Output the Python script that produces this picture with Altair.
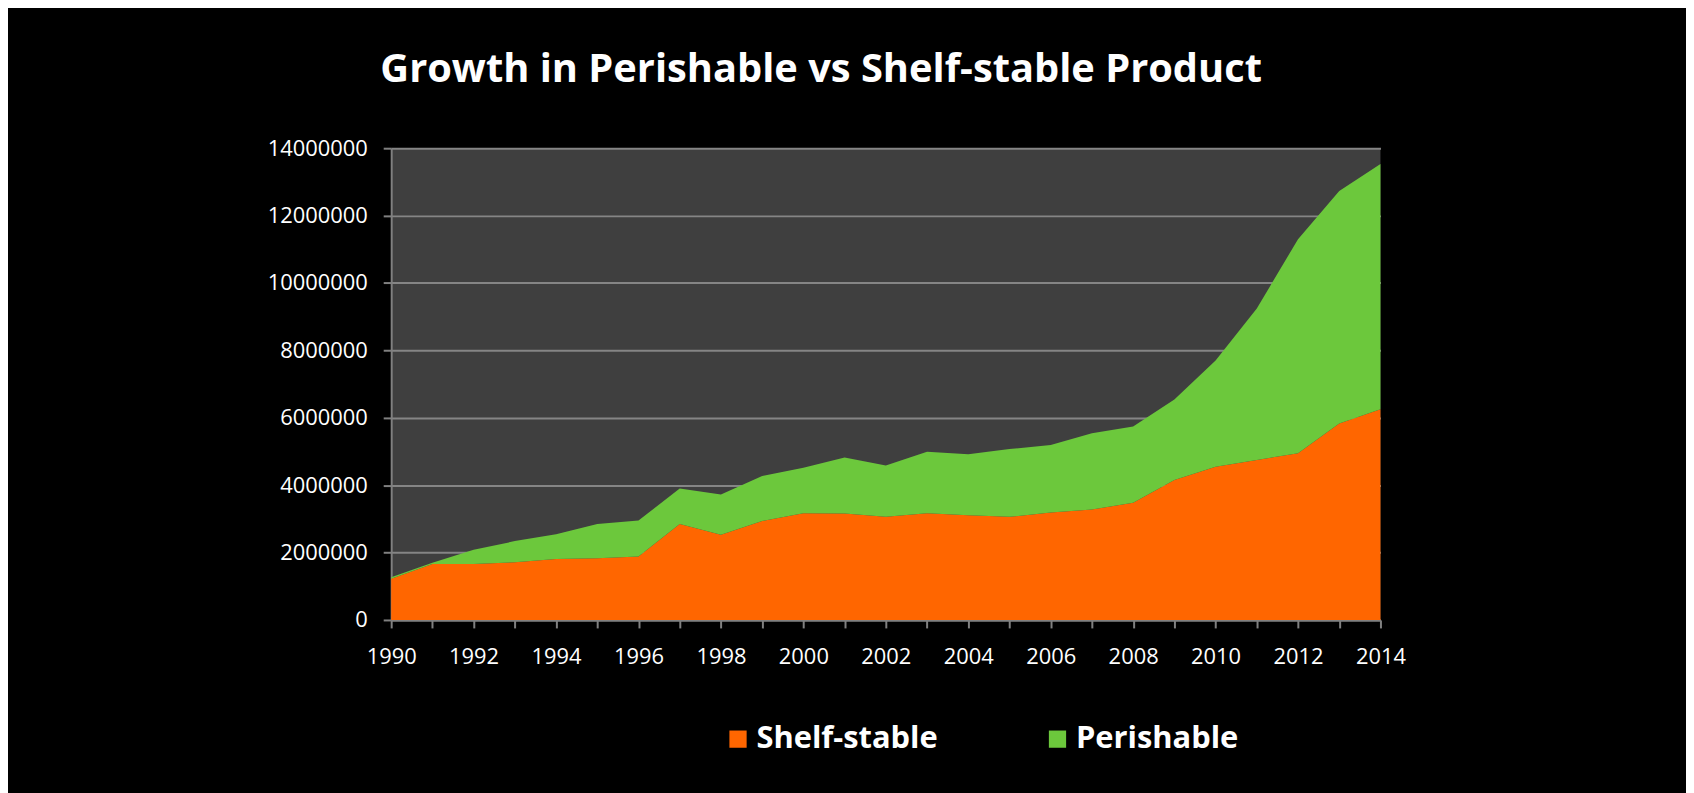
import altair as alt
import pandas as pd

years = list(range(1990, 2015))
shelf_stable = [1220000, 1660000, 1660000, 1710000, 1810000, 1830000, 1880000, 2850000,
                2530000, 2940000, 3170000, 3160000, 3060000, 3170000, 3110000, 3060000,
                3190000, 3280000, 3480000, 4150000, 4550000, 4750000, 4950000, 5830000,
                6250000]
perishable = [50000, 40000, 420000, 630000, 730000, 1020000, 1070000, 1050000,
              1190000, 1330000, 1350000, 1660000, 1520000, 1820000, 1810000, 2010000,
              2000000, 2260000, 2260000, 2390000, 3150000, 4490000, 6350000, 6900000,
              7280000]
series = ["Shelf-stable", "Perishable"]
colors = ["#FF6600", "#6CC83C"]
y_ticks = [0, 2000000, 4000000, 6000000, 8000000, 10000000, 12000000, 14000000]

rows = []
for i, yr in enumerate(years):
    rows.append({"Year": yr, "Series": series[0], "Value": shelf_stable[i], "ord": 1})
    rows.append({"Year": yr, "Series": series[1], "Value": perishable[i], "ord": 2})
df = pd.DataFrame(rows)

FONT = "Open Sans"

chart = alt.Chart(df).mark_area(opacity=1, interpolate="linear").encode(
    x=alt.X("Year:Q",
            scale=alt.Scale(domain=[1990, 2014], nice=False, zero=False),
            axis=alt.Axis(values=years, format="d",
                          labelExpr="datum.value % 2 == 0 ? datum.label : ''",
                          title=None, grid=False, tickSize=8, tickWidth=2,
                          tickColor="#808080", domainColor="#808080", domainWidth=2,
                          labelColor="white", labelFontSize=22, labelFont=FONT,
                          labelPadding=19, labelFlush=False, labelOverlap=False)),
    y=alt.Y("Value:Q", stack="zero",
            scale=alt.Scale(domain=[0, 14000000], nice=False),
            axis=alt.Axis(values=y_ticks, format="d", title=None,
                          grid=True, gridColor="#858585", gridWidth=2,
                          tickSize=8, tickWidth=2, tickColor="#808080",
                          domainColor="#808080", domainWidth=2,
                          labelColor="white", labelFontSize=22, labelFont=FONT,
                          labelPadding=16)),
    color=alt.Color("Series:N",
                    scale=alt.Scale(domain=series, range=colors),
                    legend=alt.Legend(orient="none", legendX=333, legendY=578,
                                      direction="horizontal", title=None,
                                      symbolType="square", symbolSize=300,
                                      symbolStrokeWidth=0, symbolOpacity=1,
                                      labelFont=FONT, labelFontSize=31,
                                      labelFontWeight="bold", labelColor="white",
                                      labelOffset=3, columnPadding=104,
                                      labelLimit=400)),
    order=alt.Order("ord:Q", sort="ascending"),
).properties(
    width=994,
    height=474,
    padding={"left": 385, "top": 139, "right": 307, "bottom": 172},
    autosize=alt.AutoSizeParams(type="none"),
    title=alt.TitleParams("Growth in Perishable vs Shelf-stable Product",
                          font=FONT, fontSize=40, fontWeight="bold",
                          color="white", anchor="middle", dx=-65,
                          baseline="alphabetic", offset=16),
).configure(
    background="black",
).configure_view(
    fill="#3f3f3f", stroke=None,
)

chart.save("out.html", embed_options={"renderer": "svg", "actions": False})
